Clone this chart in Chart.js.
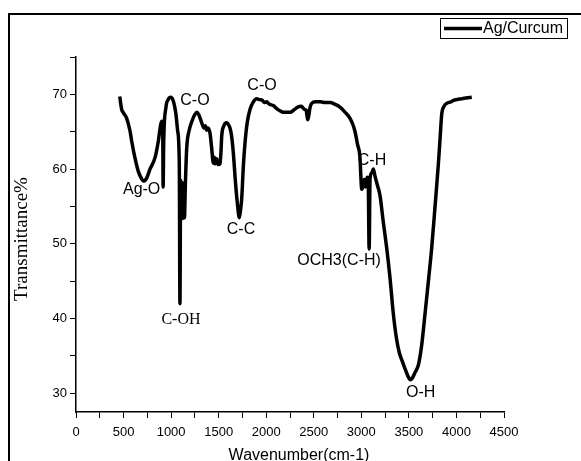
<!DOCTYPE html>
<html>
<head>
<meta charset="utf-8">
<script src="https://cdn.jsdelivr.net/npm/chart.js"></script>
<style>
  html, body { margin: 0; padding: 0; background: #fff; overflow: hidden; }
  canvas { display: block; }
</style>
</head>
<body>
<canvas id="myChart" width="581" height="461"></canvas>
<script>
// FTIR spectrum
const wavenumber = [460, 480, 500, 533, 568, 586, 620, 655, 690, 708, 743, 778, 830, 865, 891, 904, 912, 916, 922, 945, 970, 996, 1023, 1051, 1069, 1086, 1093, 1100, 1108, 1116, 1124, 1132, 1140, 1150, 1164, 1190, 1216, 1245, 1269, 1290, 1322, 1345, 1360, 1374, 1390, 1409, 1425, 1444, 1455, 1465, 1479, 1495, 1514, 1525, 1532, 1555, 1584, 1600, 1619, 1635, 1654, 1675, 1696, 1717, 1730, 1742, 1760, 1777, 1800, 1830, 1860, 1900, 1930, 1960, 1980, 2005, 2030, 2075, 2110, 2145, 2180, 2216, 2250, 2290, 2330, 2370, 2400, 2420, 2435, 2445, 2460, 2478, 2520, 2570, 2620, 2671, 2720, 2776, 2830, 2881, 2910, 2934, 2960, 2986, 2995, 3004, 3015, 3030, 3045, 3060, 3072, 3082, 3092, 3110, 3126, 3145, 3170, 3196, 3230, 3266, 3301, 3336, 3370, 3400, 3430, 3459, 3490, 3515, 3535, 3565, 3600, 3635, 3670, 3705, 3740, 3775, 3810, 3830, 3845, 3870, 3898, 3940, 3970, 4003, 4050, 4100, 4161];
const transmittance = [69.7, 68.0, 67.5, 66.8, 65.1, 63.7, 61.5, 59.7, 58.7, 58.4, 58.8, 60.0, 61.5, 63.7, 66.0, 66.4, 65.5, 57.6, 63.5, 68.2, 69.3, 69.6, 69.1, 67.3, 65.1, 60.7, 42.0, 58.5, 53.8, 58.2, 53.4, 57.0, 53.5, 58.0, 62.8, 65.2, 66.3, 67.2, 67.6, 67.3, 66.2, 65.5, 65.8, 65.2, 65.5, 64.8, 63.0, 60.8, 61.6, 60.7, 61.4, 60.6, 60.7, 62.5, 64.4, 65.8, 66.2, 66.0, 65.5, 64.5, 62.2, 58.5, 55.5, 53.5, 54.5, 56.0, 60.5, 63.5, 66.2, 68.0, 68.9, 69.4, 69.3, 69.2, 68.9, 69.0, 68.7, 68.5, 68.1, 67.8, 67.6, 67.6, 67.6, 67.9, 68.3, 68.4, 68.0, 67.9, 66.6, 67.0, 68.2, 68.8, 69.0, 69.0, 68.9, 68.9, 68.7, 68.3, 67.6, 66.8, 66.0, 65.0, 63.3, 61.5, 59.0, 57.3, 57.6, 58.6, 57.6, 58.9, 58.6, 49.3, 58.8, 59.5, 60.0, 59.0, 57.8, 56.5, 53.0, 49.5, 45.5, 40.7, 37.3, 35.4, 34.3, 33.3, 32.3, 31.8, 32.0, 32.8, 33.8, 36.5, 40.7, 45.0, 49.5, 55.0, 60.7, 64.5, 67.3, 68.4, 68.8, 69.0, 69.2, 69.3, 69.4, 69.5, 69.6];

const xTickValues = [0, 250, 500, 750, 1000, 1250, 1500, 1750, 2000, 2250, 2500, 2750, 3000, 3250, 3500, 3750, 4000, 4250, 4500];
const yTickValues = [30, 35, 40, 45, 50, 55, 60, 65, 70, 75];

// band labels, placed in data units
const peakNames = ['Ag-O', 'C-O', 'C-OH', 'C-C', 'C-O', 'C-H', 'OCH3(C-H)', 'O-H'];
const peakX = [690, 1251, 1104, 1735, 1956, 3112, 2766, 3624];
const peakY = [57.3, 69.2, 39.9, 51.9, 71.2, 61.1, 47.7, 30.1];

const sans = 'Arial, "Liberation Sans", sans-serif';
const serif = '"Times New Roman", "Liberation Serif", serif';

const decor = {
    id: 'decor',
    afterDraw(chart) {
        const c = chart.ctx;
        const xs = chart.scales.x, ys = chart.scales.y;
        c.save();
        c.strokeStyle = '#000';
        c.fillStyle = '#000';

        // outer frame
        c.lineWidth = 2;
        c.strokeRect(9, 14, 640, 520);

        // legend
        c.lineWidth = 1;
        c.strokeRect(440.5, 18.5, 127, 20);
        c.lineWidth = 3.5;
        c.beginPath();
        c.moveTo(444, 28.5);
        c.lineTo(482, 28.5);
        c.stroke();
        c.font = '16px ' + sans;
        c.textBaseline = 'middle';
        c.textAlign = 'left';
        c.fillText('Ag/Curcum', 483, 29);

        // band labels
        c.textAlign = 'center';
        peakNames.forEach((name, i) => {
            c.font = '16px ' + (name === 'C-OH' ? serif : sans);
            c.fillText(name, xs.getPixelForValue(peakX[i]), ys.getPixelForValue(peakY[i]));
        });

        // axis titles
        c.font = '16px ' + sans;
        c.fillText('Wavenumber(cm-1)', 299, 456);
        c.translate(22, 239);
        c.rotate(-Math.PI / 2);
        c.font = '19px ' + serif;
        c.fillText('Transmittance%', 0, 0);
        c.restore();
    }
};

const ctx = document.getElementById('myChart');

new Chart(ctx, {
    type: 'line',
    data: {
        datasets: [{
            label: 'Ag/Curcum',
            data: wavenumber.map((w, i) => ({ x: w, y: transmittance[i] })),
            borderColor: '#000',
            borderWidth: 3.5,
            pointRadius: 0,
            fill: false,
            cubicInterpolationMode: 'monotone'
        }]
    },
    options: {
        responsive: false,
        animation: false,
        layout: { padding: { top: 57, right: 77, left: 0, bottom: 0 } },
        plugins: {
            legend: { display: false },
            tooltip: { enabled: false }
        },
        scales: {
            x: {
                type: 'linear',
                min: 0,
                max: 4500,
                afterBuildTicks: s => { s.ticks = xTickValues.map(v => ({ value: v })); },
                afterFit: s => { s.height = 49; },
                ticks: {
                    callback: v => (v % 500 === 0 ? v : ''),
                    autoSkip: false,
                    maxRotation: 0,
                    color: '#000',
                    padding: 7,
                    font: { family: sans, size: 13 }
                },
                grid: { drawOnChartArea: false, color: '#000', tickLength: 6 },
                border: { color: '#000', width: 1.5 }
            },
            y: {
                min: 27.5,
                max: 75,
                afterBuildTicks: s => { s.ticks = yTickValues.map(v => ({ value: v })); },
                afterFit: s => { s.width = 76; },
                ticks: {
                    callback: v => (v % 10 === 0 && v <= 70 ? v : ''),
                    autoSkip: false,
                    color: '#000',
                    padding: 3,
                    font: { family: sans, size: 13 }
                },
                grid: { drawOnChartArea: false, color: '#000', tickLength: 6 },
                border: { color: '#000', width: 1.5 }
            }
        }
    },
    plugins: [decor]
});
</script>
</body>
</html>
